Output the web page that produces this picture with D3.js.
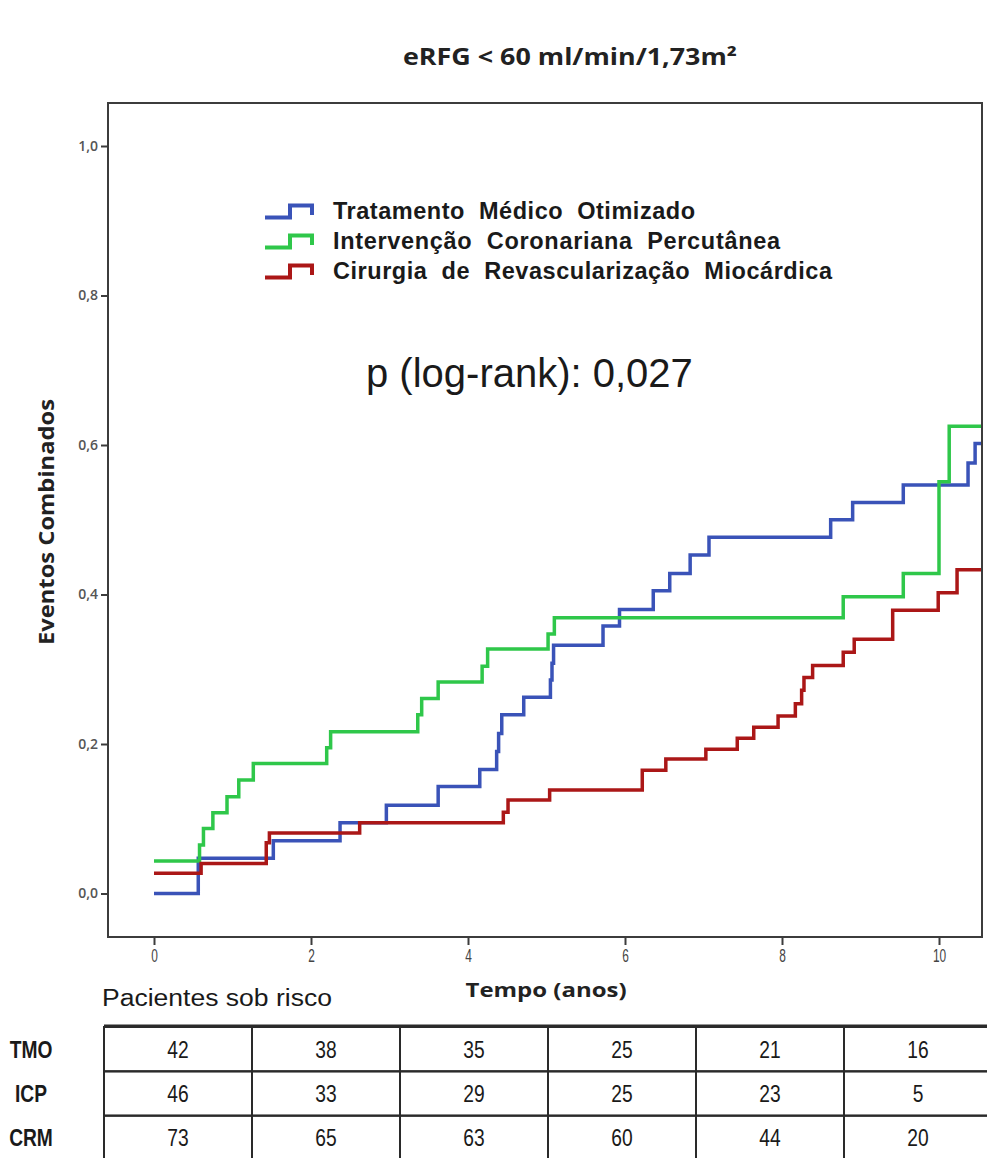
<!DOCTYPE html>
<html>
<head>
<meta charset="utf-8">
<script src="https://cdn.jsdelivr.net/npm/d3@7"></script>
<style>
  body { margin: 0; background: #fff; }
  svg { display: block; }
</style>
</head>
<body>
<svg id="chart" width="987" height="1158"></svg>
<script>
// Cumulative combined events (Kaplan–Meier), time in years
const tmoTimes  = [0, 0.564, 1.52, 2.37, 2.96, 3.62, 4.15, 4.365, 4.39, 4.43, 4.71, 5.05, 5.07, 5.09, 5.72, 5.93, 6.36, 6.57, 6.83, 7.07, 8.62, 8.9, 9.545, 10.37, 10.46];
const tmoValues = [0, 0.047, 0.0706, 0.0947, 0.118, 0.143, 0.166, 0.19, 0.214, 0.239, 0.2625, 0.2856, 0.308, 0.332, 0.358, 0.38, 0.405, 0.428, 0.453, 0.4765, 0.50, 0.523, 0.5465, 0.576, 0.602];

const icpTimes  = [0, 0.58, 0.63, 0.75, 0.93, 1.08, 1.265, 2.2, 2.25, 3.36, 3.41, 3.62, 4.18, 4.25, 5.02, 5.1, 8.78, 9.545, 10.0, 10.13];
const icpValues = [0.0435, 0.065, 0.087, 0.108, 0.1295, 0.152, 0.174, 0.195, 0.2165, 0.239, 0.261, 0.283, 0.304, 0.327, 0.347, 0.369, 0.397, 0.428, 0.551, 0.625];

const crmTimes  = [0, 0.6, 1.43, 1.47, 2.62, 4.45, 4.51, 5.04, 6.22, 6.52, 7.03, 7.43, 7.64, 7.95, 8.17, 8.25, 8.28, 8.39, 8.78, 8.92, 9.41, 9.99, 10.23];
const crmValues = [0.027, 0.040, 0.068, 0.081, 0.0947, 0.1086, 0.125, 0.1385, 0.165, 0.18, 0.193, 0.2076, 0.2223, 0.2375, 0.254, 0.272, 0.289, 0.305, 0.3227, 0.34, 0.379, 0.4024, 0.433];

const followUpEnd = 10.7;

const groupNames = ["Tratamento  Médico  Otimizado", "Intervenção  Coronariana  Percutânea", "Cirurgia  de  Revascularização  Miocárdica"];
const groupCodes = ["TMO", "ICP", "CRM"];
const groupColors = ["#3a53b8", "#2fc74a", "#ab1717"];

const yTicks = [0, 0.2, 0.4, 0.6, 0.8, 1.0];
const xTicks = [0, 2, 4, 6, 8, 10];

// Patients at risk at each x tick
const riskTMO = [42, 38, 35, 25, 21, 16];
const riskICP = [46, 33, 29, 25, 23, 5];
const riskCRM = [73, 65, 63, 60, 44, 20];

const series = [
  { times: tmoTimes, values: tmoValues },
  { times: icpTimes, values: icpValues },
  { times: crmTimes, values: crmValues }
];
const riskRows = [riskTMO, riskICP, riskCRM];

const svg = d3.select("#chart");

const frame = { left: 108, right: 982, top: 103, bottom: 937 };
const x = d3.scaleLinear().domain([0, 10]).range([154, 939]);
const y = d3.scaleLinear().domain([0, 1]).range([893.5, 146]);

// Title
svg.append("text")
  .attr("x", 570).attr("y", 65)
  .attr("text-anchor", "middle")
  .attr("font-family", "Open Sans, sans-serif")
  .attr("font-weight", 700)
  .attr("font-size", 22.5)
  .attr("fill", "#222")
  .attr("textLength", 334).attr("lengthAdjust", "spacingAndGlyphs")
  .text("eRFG < 60 ml/min/1,73m²");

// Plot frame
svg.append("rect")
  .attr("x", frame.left).attr("y", frame.top)
  .attr("width", frame.right - frame.left).attr("height", frame.bottom - frame.top)
  .attr("fill", "none").attr("stroke", "#3c3c3c").attr("stroke-width", 2);

// Y axis
const yAxis = svg.append("g")
  .attr("transform", `translate(${frame.left},0)`)
  .call(d3.axisLeft(y).tickValues(yTicks).tickSize(7).tickPadding(3)
    .tickFormat(d => d3.format(".1f")(d).replace(".", ",")));
yAxis.select(".domain").remove();
yAxis.selectAll("line").attr("stroke", "#3c3c3c").attr("stroke-width", 2);
yAxis.selectAll("text")
  .attr("font-family", "Open Sans, sans-serif")
  .attr("font-size", 14).attr("font-weight", 600).attr("fill", "#555");

// X axis (condensed tick labels)
const xAxis = svg.append("g")
  .attr("transform", `translate(0,${frame.bottom})`)
  .call(d3.axisBottom(x).tickValues(xTicks).tickSize(8).tickPadding(4));
xAxis.select(".domain").remove();
xAxis.selectAll("line").attr("stroke", "#3c3c3c").attr("stroke-width", 2);
xAxis.selectAll("text")
  .attr("font-family", "Liberation Sans, sans-serif")
  .attr("font-size", 18).attr("fill", "#444")
  .attr("transform", "scale(0.66,1)");

// Axis titles
svg.append("text")
  .attr("transform", "translate(54,522) rotate(-90)")
  .attr("text-anchor", "middle")
  .attr("font-family", "Open Sans, sans-serif")
  .attr("font-weight", 700).attr("font-size", 21.5).attr("fill", "#222")
  .attr("textLength", 246).attr("lengthAdjust", "spacingAndGlyphs")
  .text("Eventos Combinados");

svg.append("text")
  .attr("x", 546).attr("y", 997)
  .attr("text-anchor", "middle")
  .attr("font-family", "Open Sans, sans-serif")
  .attr("font-weight", 700).attr("font-size", 20).attr("fill", "#222")
  .attr("textLength", 161).attr("lengthAdjust", "spacingAndGlyphs")
  .text("Tempo (anos)");

// Curves
svg.append("clipPath").attr("id", "plotClip")
  .append("rect")
  .attr("x", frame.left).attr("y", frame.top)
  .attr("width", frame.right - frame.left - 1).attr("height", frame.bottom - frame.top);

const line = d3.line()
  .x(d => x(d[0]))
  .y(d => y(d[1]))
  .curve(d3.curveStepAfter);

const curves = svg.append("g").attr("clip-path", "url(#plotClip)");
series.forEach((s, i) => {
  const pts = s.times.map((t, k) => [t, s.values[k]]);
  pts.push([followUpEnd, s.values[s.values.length - 1]]);
  curves.append("path")
    .datum(pts)
    .attr("d", line)
    .attr("fill", "none")
    .attr("stroke", groupColors[i])
    .attr("stroke-width", 3.5)
    .attr("stroke-linejoin", "miter");
});

// Legend
const legendWidths = [362, 447, 499];
const legend = svg.append("g").attr("transform", "translate(265,211)");
groupNames.forEach((name, i) => {
  const g = legend.append("g").attr("transform", `translate(0,${i * 30})`);
  g.append("path")
    .attr("d", "M0,6.5 H25 V-5.5 H47 V4")
    .attr("fill", "none")
    .attr("stroke", groupColors[i])
    .attr("stroke-width", 4);
  g.append("text")
    .attr("x", 68).attr("y", 8)
    .attr("font-family", "Liberation Sans, Arial, sans-serif")
    .attr("font-weight", 700).attr("font-size", 23.5).attr("fill", "#1a1a1a")
    .style("white-space", "pre")
    .attr("textLength", legendWidths[i]).attr("lengthAdjust", "spacing")
    .text(name);
});

// Log-rank p value
svg.append("text")
  .attr("x", 366).attr("y", 387)
  .attr("font-family", "Liberation Sans, Arial, sans-serif")
  .attr("font-size", 40).attr("fill", "#1a1a1a")
  .text("p (log-rank): 0,027");

// Patients at risk table
svg.append("text")
  .attr("x", 102).attr("y", 1006)
  .attr("font-family", "Liberation Sans, sans-serif")
  .attr("font-size", 23).attr("fill", "#1a1a1a")
  .attr("textLength", 230).attr("lengthAdjust", "spacingAndGlyphs")
  .text("Pacientes sob risco");

const col = d3.scaleBand().domain(xTicks).range([104, 992]);
const row = d3.scaleBand().domain(groupCodes).range([1027, 1160]);

const narrow = 0.8;
const table = svg.append("g");
groupCodes.forEach((code, r) => {
  const cy = row(code) + row.bandwidth() / 2;
  table.append("text")
    .attr("transform", `translate(31,${cy}) scale(${narrow},1)`)
    .attr("dy", "0.36em")
    .attr("text-anchor", "middle")
    .attr("font-family", "Liberation Sans, sans-serif")
    .attr("font-weight", 700).attr("font-size", 24).attr("fill", "#1a1a1a")
    .text(code);
  xTicks.forEach((t, c) => {
    table.append("rect")
      .attr("x", col(t)).attr("y", row(code))
      .attr("width", col.bandwidth()).attr("height", row.bandwidth())
      .attr("fill", "none").attr("stroke", "#2a2a2a").attr("stroke-width", 2);
    table.append("text")
      .attr("transform", `translate(${col(t) + col.bandwidth() / 2},${cy}) scale(${narrow},1)`)
      .attr("dy", "0.36em")
      .attr("text-anchor", "middle")
      .attr("font-family", "Liberation Sans, sans-serif")
      .attr("font-size", 24).attr("fill", "#1a1a1a")
      .text(riskRows[r][c]);
  });
});
// heavier top rule of the table
table.append("line")
  .attr("x1", 104).attr("x2", 992)
  .attr("y1", 1026).attr("y2", 1026)
  .attr("stroke", "#2a2a2a").attr("stroke-width", 3);
</script>
</body>
</html>
